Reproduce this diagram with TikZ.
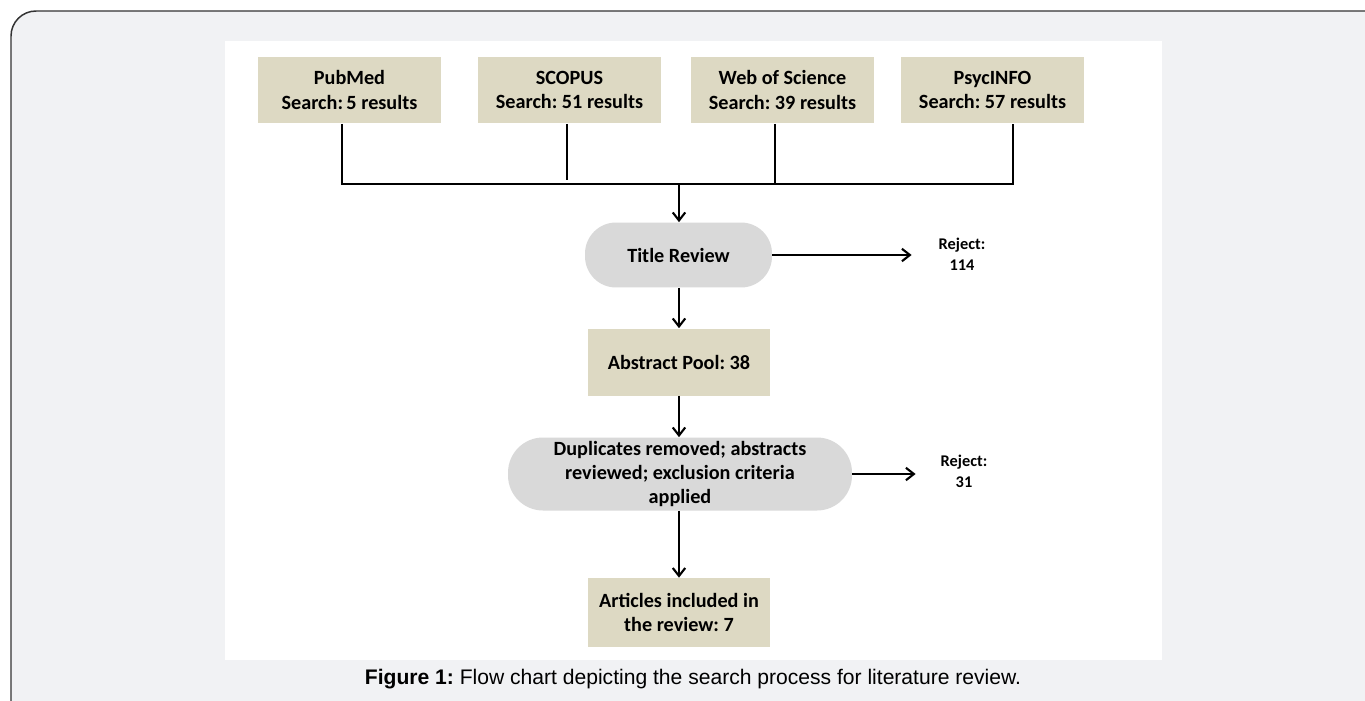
\documentclass[tikz,border=0pt]{standalone}
\usepackage{fontspec}
\setmainfont{Carlito}
\newfontfamily\capfont{Liberation Sans}
\usetikzlibrary{arrows.meta, positioning}
\definecolor{tanfill}{HTML}{DDD9C3}
\definecolor{pillfill}{HTML}{D9D9D9}
\definecolor{pagegray}{HTML}{F1F2F4}
\frenchspacing
\begin{document}
\begin{tikzpicture}[x=0.02cm, y=-0.02cm,
    srcbox/.style={fill=tanfill,minimum width=3.66cm,minimum height=1.34cm,inner sep=0pt,align=center,font=\fontsize{11.5}{13.8}\selectfont\bfseries},
    pill/.style={fill=pillfill,rounded corners=0.62cm,inner sep=0pt,align=center,font=\fontsize{11.5}{13.8}\selectfont\bfseries},
    reject/.style={align=center,inner sep=1pt,font=\fontsize{9.3}{12}\selectfont\bfseries},
    bus/.style={line width=1.3pt},
    arr/.style={line width=0.6pt,-{Straight Barb[length=1.6mm,width=2.5mm,line width=1.2pt]}}
  ]
    \useasboundingbox (0,0) rectangle (1365,700);
    \clip (0,0) rectangle (1365,700);
    \draw[draw=black!80,line width=0.85pt,fill=pagegray,rounded corners=0.5cm] (11,11) rectangle (1420,760);
    \fill[white] (225,41) rectangle (1162,660);

    % sources
    \node[srcbox] (pub) at (349.5,90) {PubMed\\Search:\,5 results};
    \node[srcbox] (sco) at (569.5,90) {SCOPUS\\Search: 51 results};
    \node[srcbox] (wos) at (782.5,90) {Web of Science\\Search: 39 results};
    \node[srcbox] (psy) at (992.5,90) {PsycINFO\\Search: 57 results};
    \coordinate (busL) at (342,184);
    \coordinate (busR) at (1013,184);
    \coordinate (busM) at (679,184);
    \draw[bus] (pub.south -| busL) -- (busL) -- (busR) -- (psy.south -| busR);
    \draw[bus] ([xshift=-0.05cm]sco.south) -- ([xshift=-0.05cm,yshift=0.08cm]sco.south |- busL);
    \draw[bus] ([xshift=-0.15cm]wos.south) -- ([xshift=-0.15cm]wos.south |- busL);

    % screening
    \node[pill,minimum width=3.74cm,minimum height=1.3cm] (title) at (678.5,255) {Title Review};
    \node[reject] (rej1) at (962,254) {Reject:\\114};
    \node[srcbox] (pool) at (679,362) {Abstract Pool: 38};
    \node[pill,minimum width=6.88cm,minimum height=1.46cm,rounded corners=0.7cm] (dup) at (680,474)
      {Duplicates removed; abstracts\\reviewed; exclusion criteria\\applied};
    \node[reject] (rej2) at (964,471) {Reject:\\31};
    \node[srcbox,minimum height=1.38cm] (art) at (679,612.5) {Articles included in\\the review: 7};

    \draw[arr] (busM) -- (busM |- title.north);
    \draw[arr] (title.east) -- (rej1.west |- title.east) [shorten >=0.5cm];
    \draw[arr] (title.south -| busM) -- (pool.north -| busM);
    \draw[arr] (pool.south -| busM) -- (dup.north -| busM);
    \draw[arr] (dup.east) -- (rej2.west |- dup.east) [shorten >=0.46cm];
    \draw[arr] (dup.south -| busM) -- (art.north -| busM);

    \node[font=\capfont\fontsize{12}{14}\selectfont] (cap) at (693,679)
      {\textbf{Figure 1:} Flow chart depicting the search process for literature review.};
  \end{tikzpicture}
\end{document}
